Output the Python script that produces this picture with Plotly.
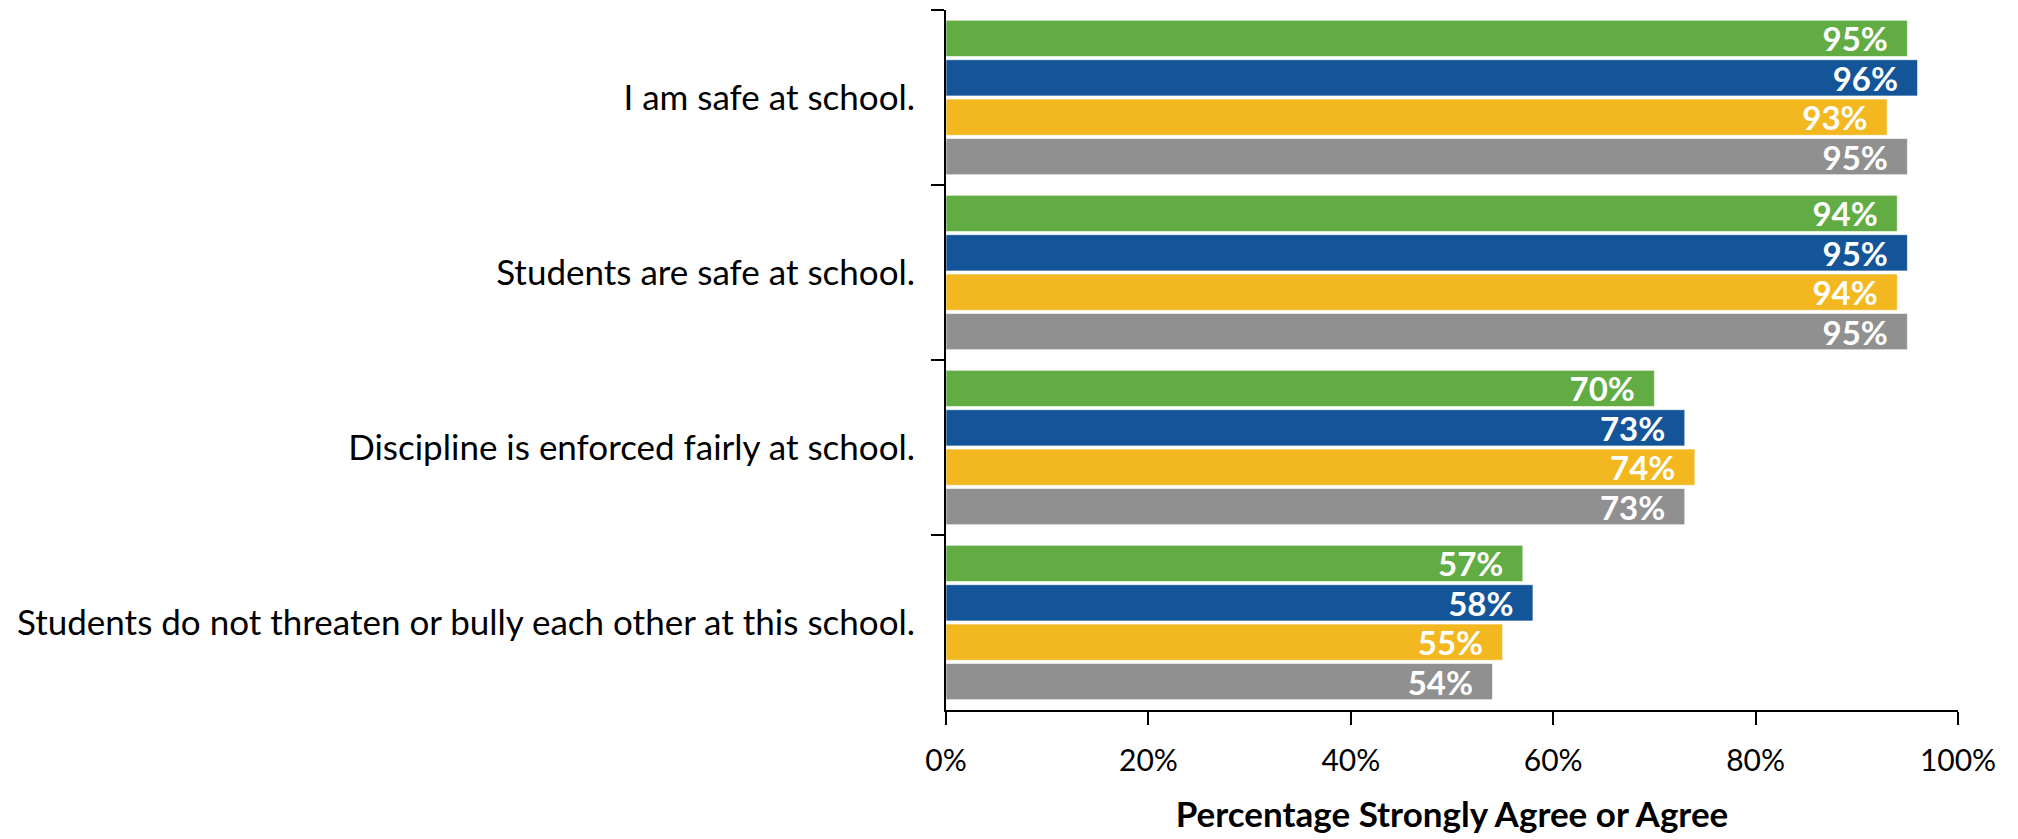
import plotly.graph_objects as go

categories = [
    "I am safe at school.",
    "Students are safe at school.",
    "Discipline is enforced fairly at school.",
    "Students do not threaten or bully each other at this school.",
]
series_names = ["Series 1", "Series 2", "Series 3", "Series 4"]
green_vals = [95, 94, 70, 57]
blue_vals = [96, 95, 73, 58]
yellow_vals = [93, 94, 74, 55]
gray_vals = [95, 95, 73, 54]
x_ticks = [0, 20, 40, 60, 80, 100]
x_tick_labels = ["0%", "20%", "40%", "60%", "80%", "100%"]

colors = ["#62AC44", "#135598", "#F3B71F", "#909090"]
all_vals = [green_vals, blue_vals, yellow_vals, gray_vals]

FONT = "Lato"

fig = go.Figure()
for name, vals, col in zip(series_names, all_vals, colors):
    fig.add_trace(go.Bar(
        y=categories,
        x=vals,
        name=name,
        orientation="h",
        marker=dict(color=col, line=dict(color="rgba(255,255,255,0.6)", width=1)),
        text=[f"{v}%\u2002" for v in vals],
        textposition="inside",
        insidetextanchor="end",
        constraintext="none",
        textangle=0,
        textfont=dict(family=FONT, size=33, color="white", weight="bold"),
        cliponaxis=False,
    ))

fig.update_layout(
    width=2018,
    height=839,
    margin=dict(l=946, r=60, t=10, b=129),
    barmode="group",
    bargap=0.1,
    bargroupgap=0.08,
    showlegend=False,
    plot_bgcolor="white",
    paper_bgcolor="white",
    uniformtext=dict(minsize=10, mode="show"),
    font=dict(family=FONT, color="black"),
)
fig.update_yaxes(
    type="category",
    autorange="reversed",
    tickson="boundaries",
    ticks="outside",
    ticklen=13,
    tickwidth=2,
    tickcolor="black",
    showline=True,
    linecolor="black",
    linewidth=2,
    showgrid=False,
    automargin=False,
    tickfont=dict(family=FONT, size=35, color="black"),
    ticklabelstandoff=22,
)
fig.update_xaxes(
    range=[0, 100],
    tickvals=x_ticks,
    ticktext=x_tick_labels,
    ticks="outside",
    ticklen=13,
    tickwidth=2,
    tickcolor="black",
    showline=True,
    linecolor="black",
    linewidth=2,
    showgrid=False,
    zeroline=False,
    automargin=False,
    tickfont=dict(family=FONT, size=30, color="black"),
    ticklabelstandoff=10,
    title=dict(text="<b>Percentage Strongly Agree or Agree</b>",
               font=dict(family=FONT, size=35, color="black"), standoff=26),
)

fig.write_html(
    "out.html",
    config={"displayModeBar": False, "staticPlot": True},
    post_script="document.body.style.margin='0';document.body.style.overflow='hidden';",
)
